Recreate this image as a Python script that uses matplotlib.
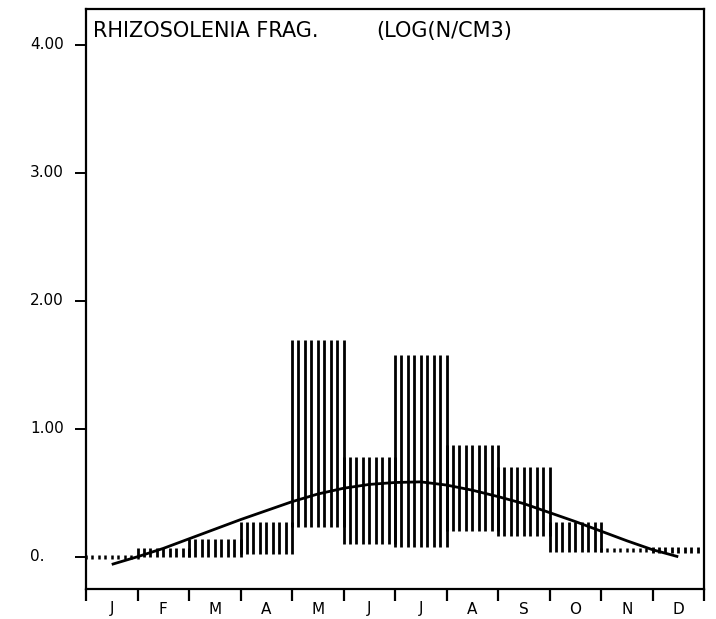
import numpy as np
import matplotlib
matplotlib.use("Agg")
import matplotlib.pyplot as plt
import matplotlib.transforms as mtransforms

# Monthly range of log abundance (lower / upper limit of each month's band)
months = ['J', 'F', 'M', 'A', 'M', 'J', 'J', 'A', 'S', 'O', 'N', 'D']
band_low = [0.0, 0.0, 0.0, 0.02, 0.23, 0.10, 0.08, 0.20, 0.16, 0.04, 0.05, 0.03]
band_high = [0.0, 0.07, 0.14, 0.27, 1.69, 0.78, 1.575, 0.87, 0.70, 0.27, 0.05, 0.08]

# Fitted seasonal curve (position in months, value)
curve_month = [0.5, 1.0, 1.5, 2.0, 2.5, 3.0, 3.5, 4.0, 4.5, 5.0, 5.5, 6.0,
               6.5, 7.0, 7.5, 8.0, 8.5, 9.0, 9.5, 10.0, 10.5, 11.0, 11.5]
curve_value = [-0.06, 0.0, 0.065, 0.14, 0.215, 0.29, 0.36, 0.43, 0.49, 0.535,
               0.565, 0.58, 0.585, 0.56, 0.52, 0.47, 0.415, 0.345, 0.275, 0.2,
               0.125, 0.055, 0.0]

ytick_values = [0, 1, 2, 3, 4]
ytick_labels = ['0.', '1.00', '2.00', '3.00', '4.00']

title_name = 'RHIZOSOLENIA FRAG.'
title_unit = '(LOG(N/CM3)'

plt.rcParams['font.family'] = ['DejaVu Sans']

fig = plt.figure(figsize=(7.16, 6.19), dpi=100)
ax = fig.add_axes([86 / 716, 30 / 619, 618 / 716, 580.5 / 619])
ax.set_xlim(0, 12)
ax.set_ylim(-0.252, 4.283)

# Vertical hatching for each monthly band: 9 strokes per month
n_strokes = 9
for i, (lo, hi) in enumerate(zip(band_low, band_high)):
    xs = i + np.linspace(0, 1, n_strokes)
    if hi - lo < 0.01:
        # empty band: draw as a dotted row
        ax.plot(xs, [lo] * n_strokes, linestyle='none', marker='|',
                markersize=3.5, markeredgewidth=1.8, color='black', zorder=2)
    else:
        ax.vlines(xs, lo, hi, colors='black', linewidth=2.0, zorder=2)

ax.plot(curve_month, curve_value, color='black', linewidth=2.0,
        solid_capstyle='butt', zorder=3)

# Frame and ticks
for side in ['left', 'right', 'top', 'bottom']:
    ax.spines[side].set_linewidth(1.6)

ax.set_xticks(np.arange(0, 13))
ax.set_xticklabels([])
ax.set_xticks(np.arange(12) + 0.5, minor=True)
ax.set_xticklabels(months, minor=True, fontsize=11)
ax.tick_params(axis='x', which='major', direction='out', length=8.5, width=1.6)
ax.tick_params(axis='x', which='minor', length=0, pad=9)

ax.set_yticks(ytick_values)
ax.set_yticklabels([])
ax.tick_params(axis='y', which='major', direction='out', length=8, width=1.4)

trans = mtransforms.blended_transform_factory(ax.transAxes, ax.transData)
for v, lab in zip(ytick_values, ytick_labels):
    ax.text(-0.0906, v, lab, transform=trans, ha='left', va='center',
            fontsize=11)

ax.text(0.0113, 0.979, title_name, transform=ax.transAxes, ha='left',
        va='top', fontsize=15)
ax.text((376 - 86) / 618, 0.979, title_unit, transform=ax.transAxes,
        ha='left', va='top', fontsize=15)

fig.savefig('out.png', dpi=100)
